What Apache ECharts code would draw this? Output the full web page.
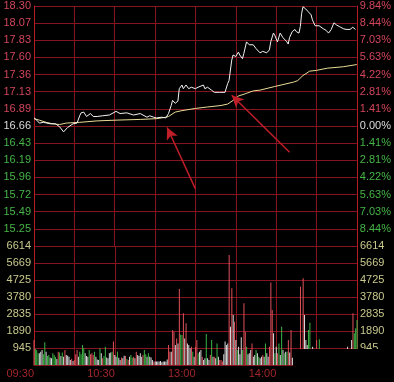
<!DOCTYPE html>
<html><head><meta charset="utf-8">
<script src="https://cdn.jsdelivr.net/npm/echarts@6/dist/echarts.min.js"></script>
<style>html,body{margin:0;padding:0;background:#000;}#c{width:394px;height:382px;}</style>
</head><body><div id="c"></div>
<script>
const prevClose = 16.66;
const priceStep = 0.2343;
const priceTickLabels = ['', '15.25','15.49','15.72','15.96','16.19','16.43','16.66','16.89','17.13','17.36','17.60','17.83','18.07','18.30'];
const pctTickLabels = ['', '8.44%','7.03%','5.63%','4.22%','2.81%','1.41%','0.00%','1.41%','2.81%','4.22%','5.63%','7.03%','8.44%','9.84%'];
const volTickLabels = ['', '945','1890','2835','3780','4725','5669','6614'];
const volStep = 945;
const xTickMinutes = [0, 60, 120, 180];
const xTickLabels = ['09:30', '10:30', '13:00', '14:00'];

const priceTimes = [0,2,4,7,12,16,19,22,25,29,32,34,35,37,39,42,44,47,51,56,61,64,69,74,79,84,86,89,91,95,98,100,102,103,105,107,108,110,111,113,115,117,120,122,126,127,129,132,134,138,142,144,145,147,148,149,150,152,153,155,156,158,159,160,163,165,168,170,173,175,176,178,179,181,183,185,188,189,190,192,194,195,197,198,199,200,201,202,204,206,207,209,210,212,215,217,219,221,223,225,227,230,232,235,237,239];
const prices = [16.77,16.74,16.70,16.71,16.69,16.69,16.65,16.58,16.64,16.69,16.70,16.80,16.84,16.85,16.79,16.83,16.79,16.79,16.80,16.81,16.86,16.83,16.84,16.81,16.83,16.78,16.80,16.78,16.77,16.78,16.77,16.83,16.94,17.01,16.97,17.00,17.17,17.22,17.17,17.22,17.17,17.19,17.17,17.19,17.22,17.17,17.19,17.15,17.12,17.12,17.12,17.24,17.28,17.56,17.63,17.65,17.61,17.67,17.63,17.58,17.65,17.81,17.83,17.77,17.77,17.72,17.66,17.68,17.66,17.70,17.81,17.93,17.90,17.81,17.93,17.87,17.81,17.78,17.87,17.95,17.98,17.95,17.93,18.02,18.20,18.29,18.30,18.26,18.22,18.18,18.11,18.03,18.02,18.03,17.99,17.97,17.93,17.98,18.07,18.04,18.02,17.99,17.98,17.98,18.01,17.98];

const avgTimes = [0,4,9,14,19,24,34,47,61,79,91,98,100,105,110,120,129,139,144,148,152,157,163,168,179,193,196,200,205,210,218,230,240];
const avgPrices = [16.76,16.74,16.71,16.69,16.68,16.70,16.71,16.73,16.74,16.75,16.76,16.78,16.79,16.85,16.87,16.90,16.92,16.94,16.96,17.01,17.07,17.10,17.14,17.15,17.20,17.26,17.28,17.35,17.41,17.42,17.45,17.47,17.50];

const volumes = [
1390,900,830,650,650,740,830,600,1260,740,
500,560,410,370,650,560,450,330,740,690,
500,690,460,830,560,520,460,280,350,220,
280,600,830,460,740,600,1110,930,650,500,
460,830,600,650,560,740,460,300,280,930,
650,370,500,1020,410,370,650,700,740,1300,
560,460,740,400,280,410,370,520,500,330,
280,460,560,400,460,370,740,560,500,650,
460,560,830,600,460,650,460,410,280,200,
190,190,190,190,220,150,190,190,190,300,
1110,740,740,1950,1850,1110,1480,1200,4220,1700,
1670,2870,1480,2320,1200,1110,930,1020,740,460,
1020,1390,
650,740,830,460,280,370,1720,370,280,560,
1390,460,460,370,1200,460,280,280,190,600,
1300,1110,1200,6115,2130,4260,2780,2410,1390,830,
1020,600,1540,830,3430,1850,1020,600,650,830,
1200,460,560,830,650,460,370,460,560,460,
1200,650,460,1020,4580,3060,1760,650,1020,650,
1200,560,2130,830,650,740,740,1390,700,1950,
400,500,350,450,600,500,4350,600,4820,2780,
1390,1110,1950,2350,600,1020,500,400,1390,700,
1430,450,380,520,300,410,600,350,480,330,
420,560,300,380,470,340,520,400,310,450,
380,1020,500,700,1390,2870,1760,2040,2500];
const volDirs = 'rgggwwwggw' + 'ggwwgggwrg' + 'wgwrwwwwrw' + 'rrrwggggww' + 'wgrrrgwwwg' +
  'wrggwwwwgr' + 'wwgwwrwwrg' + 'rwggrwrwww' + 'wrggwgwwwr' + 'wwwwwwwwww' +
  'rrwrrwrwrg' + 'grwrwwwrgw' + 'rr' +
  'gwwrwwgwwr' + 'gwrwgwrrrw' + 'wwwrwrwrwg' + 'wwwgrrgwww' + 'rwwgwgwwrw' +
  'gwwrrrwgwr' + 'gwgwgwgrwr' + 'wrwgwrrwrw' + 'wwggwwwwrw' + 'gwrwgwrwgw' +
  'rwgwrwgwrw' + 'wwwwwrggg';

const arrowTails = [[120, 15.80], [190, 16.30]];
const arrowHeads = [[99, 16.64], [147, 17.08]];

const toStep = p => (p - prevClose) / priceStep;
const gridRed = '#86141e';
const borderRed = '#b81c28';
const upColor = '#d2465a';
const downColor = '#46b446';
const flatColor = '#dcdcdc';
const dirColor = { r: '#e0505a', g: '#3cb446', w: '#d8d8d8' };
const font = 'Liberation Sans, Arial, sans-serif';

const priceColor = (v) => { const i = Math.round(+v) + 7; return i > 7 ? upColor : (i < 7 ? downColor : flatColor); };

const chart = echarts.init(document.getElementById('c'), null, { renderer: 'canvas' });
chart.setOption({
  backgroundColor: '#000',
  animation: false,
  grid: [
    { left: 34, right: 37, top: 6, height: 240 },
    { left: 34, right: 37, top: 246, height: 119 }
  ],
  xAxis: [
    { type: 'value', gridIndex: 0, min: 0, max: 240, interval: 30,
      axisLine: { show: true, lineStyle: { color: gridRed } }, axisTick: { show: false },
      axisLabel: { show: false }, splitLine: { show: true, lineStyle: { color: gridRed, width: 1 } } },
    { type: 'value', gridIndex: 1, min: 0, max: 240, interval: 30,
      axisLine: { show: true, lineStyle: { color: gridRed } }, axisTick: { show: false },
      splitLine: { show: true, lineStyle: { color: gridRed, width: 1 } },
      axisLabel: { show: true, margin: 3, fontSize: 11, fontFamily: font, color: '#a0262c', align: 'right',
        showMinLabel: true, showMaxLabel: true,
        formatter: (v) => { const k = xTickMinutes.indexOf(Math.round(v)); return k >= 0 ? xTickLabels[k] : ''; } } }
  ],
  yAxis: [
    { type: 'value', gridIndex: 0, position: 'left', min: -7, max: 7, interval: 1,
      axisLine: { show: true, lineStyle: { color: borderRed } }, axisTick: { show: false },
      splitLine: { show: true, lineStyle: { color: gridRed, width: 1 } },
      axisLabel: { margin: 3, fontSize: 11, fontFamily: font, showMinLabel: true, showMaxLabel: true,
        formatter: (v) => priceTickLabels[Math.round(v) + 7], color: priceColor } },
    { type: 'value', gridIndex: 0, position: 'right', min: -7, max: 7, interval: 1,
      axisLine: { show: true, lineStyle: { color: borderRed } }, axisTick: { show: false },
      splitLine: { show: false },
      axisLabel: { margin: 3, fontSize: 11, fontFamily: font, showMinLabel: true, showMaxLabel: true,
        formatter: (v) => pctTickLabels[Math.round(v) + 7], color: priceColor } },
    { type: 'value', gridIndex: 1, position: 'left', min: 0, max: volStep * 7, interval: volStep,
      axisLine: { show: true, lineStyle: { color: borderRed } }, axisTick: { show: false },
      splitLine: { show: true, lineStyle: { color: gridRed, width: 1 } },
      axisLabel: { margin: 3, fontSize: 11, fontFamily: font, color: '#c8c88c', showMinLabel: true, showMaxLabel: true,
        formatter: (v) => volTickLabels[Math.round(v / volStep)] } },
    { type: 'value', gridIndex: 1, position: 'right', min: 0, max: volStep * 7, interval: volStep,
      axisLine: { show: true, lineStyle: { color: borderRed } }, axisTick: { show: false },
      splitLine: { show: false },
      axisLabel: { margin: 3, fontSize: 11, fontFamily: font, color: '#c8c88c', showMinLabel: true, showMaxLabel: true,
        formatter: (v) => volTickLabels[Math.round(v / volStep)] } }
  ],
  series: [
    { type: 'line', xAxisIndex: 0, yAxisIndex: 0, symbol: 'none', silent: true,
      data: priceTimes.map((t, i) => [t, toStep(prices[i])]),
      lineStyle: { color: '#f2f2f2', width: 1 }, z: 5,
      markLine: { silent: true, symbol: ['none', 'arrow'], symbolSize: [9, 12],
        label: { show: false }, lineStyle: { color: '#c01e28', width: 1.5, type: 'solid' },
        data: arrowTails.map((t, i) => [ { coord: [t[0], toStep(t[1])] }, { coord: [arrowHeads[i][0], toStep(arrowHeads[i][1])] } ]) } },
    { type: 'line', xAxisIndex: 0, yAxisIndex: 0, symbol: 'none', silent: true,
      data: avgTimes.map((t, i) => [t, toStep(avgPrices[i])]),
      lineStyle: { color: '#e8dc96', width: 1 }, z: 4 },
    { type: 'bar', xAxisIndex: 1, yAxisIndex: 2, barWidth: 1, silent: true,
      data: volumes.map((v, i) => ({ value: [i, v], itemStyle: { color: dirColor[volDirs[i]] } })) }
  ],
  graphic: [
    { type: 'rect', left: 293, top: 349, shape: { width: 101, height: 33 }, style: { fill: '#000' }, z: 100 }
  ]
});
</script></body></html>
